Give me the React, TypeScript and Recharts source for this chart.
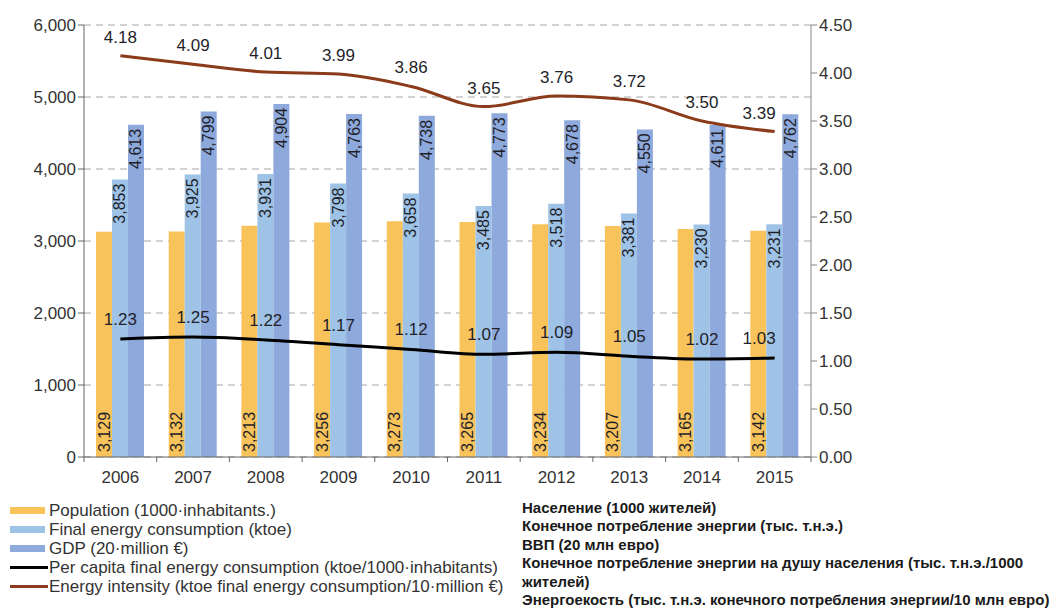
import { ComposedChart, Bar, Line, XAxis, YAxis, CartesianGrid, LabelList } from 'recharts'

const years = ['2006', '2007', '2008', '2009', '2010', '2011', '2012', '2013', '2014', '2015']
const population = [3129, 3132, 3213, 3256, 3273, 3265, 3234, 3207, 3165, 3142]
const finalEnergy = [3853, 3925, 3931, 3798, 3658, 3485, 3518, 3381, 3230, 3231]
const gdp = [4613, 4799, 4904, 4763, 4738, 4773, 4678, 4550, 4611, 4762]
const perCapita = [1.23, 1.25, 1.22, 1.17, 1.12, 1.07, 1.09, 1.05, 1.02, 1.03]
const intensity = [4.18, 4.09, 4.01, 3.99, 3.86, 3.65, 3.76, 3.72, 3.5, 3.39]

const leftTicks = [0, 1000, 2000, 3000, 4000, 5000, 6000]
const rightTicks = [0, 0.5, 1, 1.5, 2, 2.5, 3, 3.5, 4, 4.5]

const legendEn = [
  { label: 'Population (1000·inhabitants.)', color: '#F9C35C', kind: 'bar' },
  { label: 'Final energy consumption (ktoe)', color: '#9EC3E6', kind: 'bar' },
  { label: 'GDP (20·million €)', color: '#8EA9DB', kind: 'bar' },
  { label: 'Per capita final energy consumption (ktoe/1000·inhabitants)', color: '#000000', kind: 'line' },
  { label: 'Energy intensity  (ktoe final energy consumption/10·million €)', color: '#8B3A1A', kind: 'line' },
]

const legendRu = [
  'Население (1000 жителей)',
  'Конечное потребление энергии (тыс. т.н.э.)',
  'ВВП (20 млн евро)',
  'Конечное потребление энергии на душу населения (тыс. т.н.э./1000',
  'жителей)',
  'Энергоекость (тыс. т.н.э. конечного потребления энергии/10 млн евро)',
]

const data = years.map((year, i) => ({
  year,
  population: population[i],
  finalEnergy: finalEnergy[i],
  gdp: gdp[i],
  perCapita: perCapita[i],
  intensity: intensity[i],
}))

const W = 1062
const H = 490
const LEFT_W = 84
const RIGHT_W = 60
const MARGIN_RIGHT = 191
const BAND = (W - LEFT_W - RIGHT_W - MARGIN_RIGHT) / years.length
const FONT = '"Liberation Sans", Arial, sans-serif'
const TEXT = '#333'
const LABEL = '#1f1f2a'

const fmtThousands = (v: number) => v.toLocaleString('en-US')

// rotated value label inside the bar, reading bottom-to-top
const barLabel = (where: 'top' | 'bottom') => (props: any) => {
  const { x, y, width, height, value } = props
  const cx = x + width / 2
  const cy = where === 'top' ? y + 4 : y + height - 5
  return (
    <text
      x={cx}
      y={cy}
      transform={`rotate(-90, ${cx}, ${cy})`}
      textAnchor={where === 'top' ? 'end' : 'start'}
      dominantBaseline="central"
      fontSize={16}
      fontFamily={FONT}
      fill={LABEL}
    >
      {fmtThousands(value)}
    </text>
  )
}

// value above line point; the last one is pushed left of the point like in the original
const lineLabel = (gap: number) => (props: any) => {
  const { x, y, value, index } = props
  const last = index === years.length - 1
  return (
    <text
      x={last ? x + 1 : x}
      y={y - gap}
      textAnchor={last ? 'end' : 'middle'}
      fontSize={17}
      fontFamily={FONT}
      fill={LABEL}
    >
      {Number(value).toFixed(2)}
    </text>
  )
}

const YearTick = (props: any) => {
  const { x, y, payload, index } = props
  const half = BAND / 2
  return (
    <g>
      <line x1={x - half} x2={x - half} y1={y - 8} y2={y - 3} stroke="#666" />
      {index === years.length - 1 && <line x1={x + half} x2={x + half} y1={y - 8} y2={y - 3} stroke="#666" />}
      <text x={x} y={y + 18} textAnchor="middle" fontSize={17} fontFamily={FONT} fill={TEXT}>
        {payload.value}
      </text>
    </g>
  )
}

export default function App() {
  return (
    <div style={{ position: 'absolute', left: 0, top: 0, width: W, height: 608, background: '#fff', fontFamily: FONT }}>
      <ComposedChart
        width={W}
        height={H}
        data={data}
        margin={{ top: 25, right: MARGIN_RIGHT, bottom: 3, left: 0 }}
        barGap={0}
        barSize={16}
      >
        <CartesianGrid yAxisId="left" vertical={false} stroke="#a6a6a6" strokeDasharray="7 5" />
        <XAxis
          dataKey="year"
          tick={<YearTick />}
          tickLine={false}
          axisLine={{ stroke: '#666' }}
          height={30}
          interval={0}
        />
        <YAxis
          yAxisId="left"
          domain={[0, 6000]}
          ticks={leftTicks}
          tickFormatter={fmtThousands}
          width={LEFT_W}
          axisLine={{ stroke: '#666' }}
          tickLine={{ stroke: '#666' }}
          tickSize={6}
          tick={{ fontSize: 17, fill: TEXT, fontFamily: FONT }}
        />
        <YAxis
          yAxisId="right"
          orientation="right"
          domain={[0, 4.5]}
          ticks={rightTicks}
          tickFormatter={(v: number) => v.toFixed(2)}
          width={RIGHT_W}
          axisLine={{ stroke: '#888' }}
          tickLine={{ stroke: '#888' }}
          tickSize={6}
          tick={{ fontSize: 17, fill: TEXT, fontFamily: FONT }}
        />
        <Bar yAxisId="left" dataKey="population" fill="#F9C35C" isAnimationActive={false}>
          <LabelList dataKey="population" content={barLabel('bottom')} />
        </Bar>
        <Bar yAxisId="left" dataKey="finalEnergy" fill="#9EC3E6" isAnimationActive={false}>
          <LabelList dataKey="finalEnergy" content={barLabel('top')} />
        </Bar>
        <Bar yAxisId="left" dataKey="gdp" fill="#8EA9DB" isAnimationActive={false}>
          <LabelList dataKey="gdp" content={barLabel('top')} />
        </Bar>
        <Line
          yAxisId="right"
          type="monotone"
          dataKey="perCapita"
          stroke="#000"
          strokeWidth={3}
          dot={false}
          isAnimationActive={false}
        >
          <LabelList dataKey="perCapita" content={lineLabel(14)} />
        </Line>
        <Line
          yAxisId="right"
          type="monotone"
          dataKey="intensity"
          stroke="#8B3A1A"
          strokeWidth={3}
          dot={false}
          isAnimationActive={false}
        >
          <LabelList dataKey="intensity" content={lineLabel(13)} />
        </Line>
      </ComposedChart>

      {/* English legend */}
      {legendEn.map((item, i) => (
        <div
          key={item.label}
          style={{ position: 'absolute', left: 10, top: 501 + i * 19, height: 19, display: 'flex', alignItems: 'center', whiteSpace: 'nowrap' }}
        >
          <div
            style={{
              width: item.kind === 'bar' ? 35 : 38,
              height: item.kind === 'bar' ? 7 : 3,
              background: item.color,
              marginRight: item.kind === 'bar' ? 4 : 1,
            }}
          />
          <span style={{ fontSize: 17, lineHeight: '19px', color: TEXT }}>{item.label}</span>
        </div>
      ))}

      {/* Russian legend */}
      {legendRu.map((line, i) => (
        <div
          key={line}
          style={{
            position: 'absolute',
            left: 522,
            top: 499 + i * 18.4,
            height: 18,
            lineHeight: '18px',
            fontSize: 15,
            fontWeight: 'bold',
            color: '#1a1a1a',
            whiteSpace: 'nowrap',
          }}
        >
          {line}
        </div>
      ))}
    </div>
  )
}
